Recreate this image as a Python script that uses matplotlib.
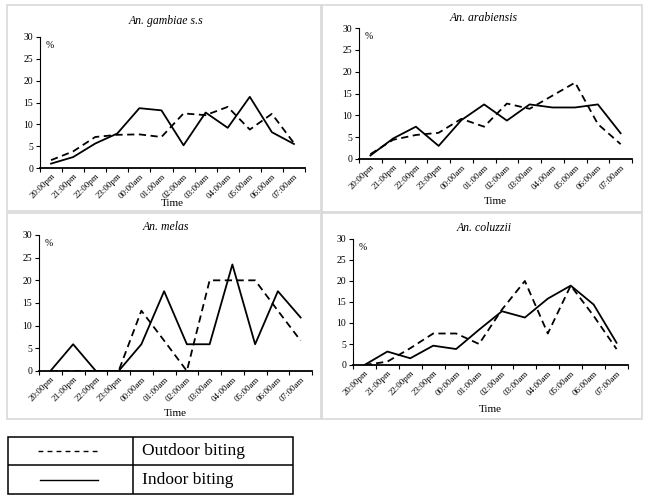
import numpy as np
import matplotlib
matplotlib.use("Agg")
import matplotlib.pyplot as plt
from matplotlib.patches import Rectangle
from matplotlib.lines import Line2D

plt.rcParams['font.family'] = ['Liberation Serif', 'DejaVu Serif']

hours = ["20:00pm", "21:00pm", "22:00pm", "23:00pm", "00:00am", "01:00am",
         "02:00am", "03:00am", "04:00am", "05:00am", "06:00am", "07:00am"]

species = ["An. gambiae s.s", "An. arabiensis", "An. melas", "An. coluzzii"]

outdoor_gambiae = [1.8, 3.8, 7.1, 7.6, 7.7, 7.1, 12.5, 12.1, 14.0, 8.8, 12.4, 5.7]
indoor_gambiae = [1.0, 2.5, 5.6, 7.9, 13.7, 13.2, 5.2, 12.7, 9.2, 16.3, 8.2, 5.5]

outdoor_arabiensis = [1.1, 4.4, 5.5, 6.0, 9.2, 7.4, 12.7, 11.5, 14.5, 17.5, 8.0, 3.4]
indoor_arabiensis = [0.8, 4.7, 7.4, 3.0, 8.9, 12.5, 8.8, 12.5, 11.8, 11.8, 12.5, 5.9]

outdoor_melas = [0, 0, 0, 0, 13.3, 6.7, 0, 20.0, 20.0, 20.0, 13.3, 6.7]
indoor_melas = [0, 5.9, 0, 0, 5.9, 17.6, 5.9, 5.9, 23.5, 5.9, 17.6, 11.8]

outdoor_coluzzii = [0, 0.8, 4.0, 7.5, 7.5, 5.0, 13.2, 20.0, 7.5, 18.9, 11.7, 3.8]
indoor_coluzzii = [0, 3.2, 1.6, 4.6, 3.8, 8.4, 12.8, 11.3, 15.8, 18.9, 14.4, 5.3]

outdoor = [outdoor_gambiae, outdoor_arabiensis, outdoor_melas, outdoor_coluzzii]
indoor = [indoor_gambiae, indoor_arabiensis, indoor_melas, indoor_coluzzii]

W, H = 650, 499
fig = plt.figure(figsize=(6.5, 4.99), dpi=100)

def box(x0, y0, x1, y1):
    # pixel box -> figure fraction [left, bottom, width, height]
    return [x0 / W, 1 - y1 / H, (x1 - x0) / W, (y1 - y0) / H]

# panel frames
frames = [(7, 5, 321, 211), (322, 5, 642, 212), (7, 213, 321, 419), (322, 213, 642, 419)]
for f in frames:
    b = box(*f)
    fig.patches.append(Rectangle((b[0], b[1]), b[2], b[3], transform=fig.transFigure,
                                 fill=False, edgecolor="#d9d9d9", lw=1.2))

axes_px = [(40, 37, 305, 168), (359, 28, 632, 159), (39, 235, 312, 371), (353, 239, 628, 365)]
title_y = [21, 18, 227, 228]
time_y = [204, 201, 413, 410]

x = np.arange(len(hours))
for i in range(4):
    a = axes_px[i]
    ax = fig.add_axes(box(*a))
    ax.plot(x, outdoor[i], color="black", lw=1.3, linestyle=(0, (4, 2.5)), zorder=2)
    ax.plot(x, indoor[i], color="black", lw=1.3, zorder=2)
    ax.set_xlim(-0.5, 11.5)
    ax.set_ylim(0, 30)
    ax.set_yticks([0, 5, 10, 15, 20, 25, 30])
    ax.set_xticks(x)
    ax.set_xticklabels(hours, rotation=45, ha="right", rotation_mode="anchor", fontsize=6.5)
    ax.set_xticks(np.arange(-0.5, 12, 1), minor=True)
    ax.tick_params(axis="x", which="major", length=0, pad=3)
    ax.tick_params(axis="x", which="minor", length=3, width=0.8, direction="out")
    ax.tick_params(axis="y", length=3, width=0.8, labelsize=7, pad=2)
    for s in ["top", "right"]:
        ax.spines[s].set_visible(False)
    ax.spines["left"].set_linewidth(0.8)
    ax.spines["bottom"].set_linewidth(1.3)
    ax.spines["bottom"].set_zorder(3)
    ax.text(0.02, 0.97, "%", transform=ax.transAxes, fontsize=7, va="top", ha="left")
    cx = (frames[i][0] + frames[i][2]) / 2 + 2
    fig.text(cx / W, 1 - title_y[i] / H, species[i], style="italic", fontsize=8.5,
             ha="center", va="center")
    tx = (a[0] + a[2]) / 2
    fig.text(tx / W, 1 - time_y[i] / H, "Time", fontsize=8, ha="center", va="center")

# legend table
lg = fig.add_axes(box(8, 437, 293, 494))
lg.set_xlim(8, 293)
lg.set_ylim(494, 437)
lg.axis("off")
lg.add_patch(Rectangle((8, 437), 285, 57, fill=False, edgecolor="black", lw=1.1, clip_on=False))
lg.add_line(Line2D([8, 293], [465, 465], color="black", lw=1.1))
lg.add_line(Line2D([133, 133], [437, 494], color="black", lw=1.1))
lg.add_line(Line2D([38, 98], [451, 451], color="black", lw=1.0, linestyle=(0, (3.5, 3))))
lg.add_line(Line2D([40, 98], [480, 480], color="black", lw=1.0))
lg.text(142, 451, "Outdoor biting", fontsize=12.5, ha="left", va="center")
lg.text(142, 480, "Indoor biting", fontsize=12.5, ha="left", va="center")

fig.savefig("out.png", dpi=100)
